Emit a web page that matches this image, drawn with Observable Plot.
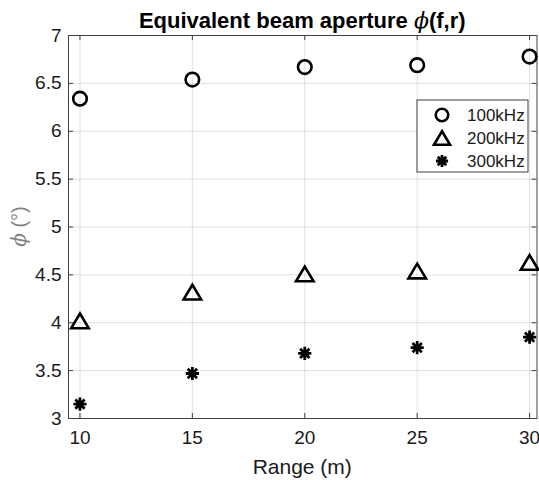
<!DOCTYPE html>
<html>
<head>
<meta charset="utf-8">
<script src="https://cdn.jsdelivr.net/npm/d3@7"></script>
<script src="https://cdn.jsdelivr.net/npm/@observablehq/plot@0.6"></script>
<style>
  html, body { margin: 0; padding: 0; background: #fff; }
  #chart { width: 539px; height: 480px; }
</style>
</head>
<body>
<div id="chart"></div>
<script>
// ---- data ----
const ranges = [10, 15, 20, 25, 30];
const seriesNames = ["100kHz", "200kHz", "300kHz"];
const phi100 = [6.34, 6.54, 6.67, 6.69, 6.78];
const phi200 = [4.02, 4.32, 4.51, 4.54, 4.63];
const phi300 = [3.15, 3.47, 3.68, 3.74, 3.85];
const yTicks = [3, 3.5, 4, 4.5, 5, 5.5, 6, 6.5, 7];
const xTicks = [10, 15, 20, 25, 30];
const titleText = "Equivalent beam aperture ";
const xLabel = "Range (m)";

// ---- layout ----
const W = 539, H = 480;
const mL = 68, mR = 2.5, mT = 35, mB = 62;
const innerW = W - mL - mR, innerH = H - mT - mB;
const ink = "#1a1a1a";
const markInk = "#000";

// ---- custom symbols ----
const symCircle = {draw(ctx, size) { const r = Math.sqrt(size / Math.PI); ctx.moveTo(r, 0); ctx.arc(0, 0, r, 0, 2 * Math.PI); ctx.closePath(); }};
const symTriangle = {draw(ctx, size) { const r = Math.sqrt(size / Math.PI); const w = r * 1.25, h = r * 1.05; ctx.moveTo(0, -h); ctx.lineTo(w, h); ctx.lineTo(-w, h); ctx.closePath(); }};
const symAsterisk = {draw(ctx, size) { const r = Math.sqrt(size / Math.PI); const d = r * Math.SQRT1_2;
  ctx.moveTo(-r, 0); ctx.lineTo(r, 0); ctx.moveTo(0, -r); ctx.lineTo(0, r);
  ctx.moveTo(-d, -d); ctx.lineTo(d, d); ctx.moveTo(-d, d); ctx.lineTo(d, -d); }};
const symbols = [symCircle, symTriangle, symAsterisk];
const symR = [6.8, 7.0, 6.6];
const symSW = [2.6, 2.6, 2.8];
const seriesVals = [phi100, phi200, phi300];

const rows = (vals) => ranges.map((r, i) => ({range: r, phi: vals[i]}));

function symPath(sym, r) { const p = d3.path(); sym.draw(p, r * r * Math.PI); return p.toString(); }

// legend mark (render function)
function legendMark() {
  const g = d3.create("svg:g");
  const bx = 417, by = 100, bw = 111, bh = 72;
  g.append("rect").attr("x", bx).attr("y", by).attr("width", bw).attr("height", bh)
    .attr("fill", "#fff").attr("stroke", "#404040").attr("stroke-width", 1);
  seriesNames.forEach((name, i) => {
    const cy = by + 15 + i * 23;
    g.append("path").attr("d", symPath(symbols[i], symR[i] * 0.92))
      .attr("transform", `translate(${bx + 25},${cy})`)
      .attr("fill", "none").attr("stroke", markInk).attr("stroke-width", symSW[i]);
    g.append("text").attr("x", bx + 50).attr("y", cy).attr("dy", "0.35em")
      .attr("text-anchor", "start")
      .attr("font-size", 17).attr("fill", ink).text(name);
  });
  return g.node();
}

const marks = [
  Plot.gridX(xTicks, {stroke: "#000", strokeOpacity: 0.12, strokeWidth: 1}),
  Plot.gridY(yTicks, {stroke: "#000", strokeOpacity: 0.12, strokeWidth: 1}),
  // inward tick marks on all four sides
  Plot.tickX(xTicks, {x: d => d, insetTop: innerH - 5, stroke: "#404040"}),
  Plot.tickX(xTicks, {x: d => d, insetBottom: innerH - 5, stroke: "#404040"}),
  Plot.tickY(yTicks, {y: d => d, insetRight: innerW - 5, stroke: "#404040"}),
  Plot.tickY(yTicks, {y: d => d, insetLeft: innerW - 5, stroke: "#404040"}),
  Plot.frame({stroke: "#404040", strokeWidth: 1}),
  Plot.axisX({ticks: xTicks, tickSize: 0, tickPadding: 12, label: null, fill: ink, fontSize: 19, tickFormat: d => String(d)}),
  Plot.axisY({ticks: yTicks, tickSize: 0, tickPadding: 7, label: null, fill: ink, fontSize: 19, tickFormat: d => String(d)}),
  ...seriesVals.map((vals, i) => Plot.dot(rows(vals), {
    x: "range", y: "phi", symbol: () => seriesNames[i], r: symR[i],
    stroke: markInk, strokeWidth: symSW[i], fill: "none"
  })),
  legendMark
];

const chart = Plot.plot({
  width: W, height: H,
  marginLeft: mL, marginRight: mR, marginTop: mT, marginBottom: mB,
  x: {domain: [9.49, 30.33]},
  y: {domain: [3, 7]},
  symbol: {domain: seriesNames, range: symbols},
  style: {fontFamily: "'Liberation Sans', Arial, Helvetica, sans-serif", fontSize: "19px", background: "#fff", color: ink},
  marks
});

// Title and axis labels (text with italic phi)
const svg = d3.select(chart);
const t = svg.append("text").attr("x", mL + innerW / 2).attr("y", 27.5)
  .attr("text-anchor", "middle").attr("font-size", 22).attr("font-weight", "bold").attr("fill", "#000");
t.append("tspan").text(titleText);
t.append("tspan").attr("font-style", "italic").attr("font-weight", "normal").attr("font-family", "'DejaVu Serif', serif").text("ϕ");
t.append("tspan").text("(f,r)");

svg.append("text").attr("x", mL + innerW / 2).attr("y", 474)
  .attr("text-anchor", "middle").attr("font-size", 21).attr("fill", ink).text(xLabel);

const yl = svg.append("text").attr("transform", `translate(26,${mT + innerH / 2}) rotate(-90)`)
  .attr("text-anchor", "middle").attr("font-size", 20).attr("fill", "#808080");
yl.append("tspan").attr("font-style", "italic").attr("font-family", "'DejaVu Serif', serif").text("ϕ");
yl.append("tspan").text(" (°)");

document.getElementById("chart").appendChild(chart);
</script>
</body>
</html>
